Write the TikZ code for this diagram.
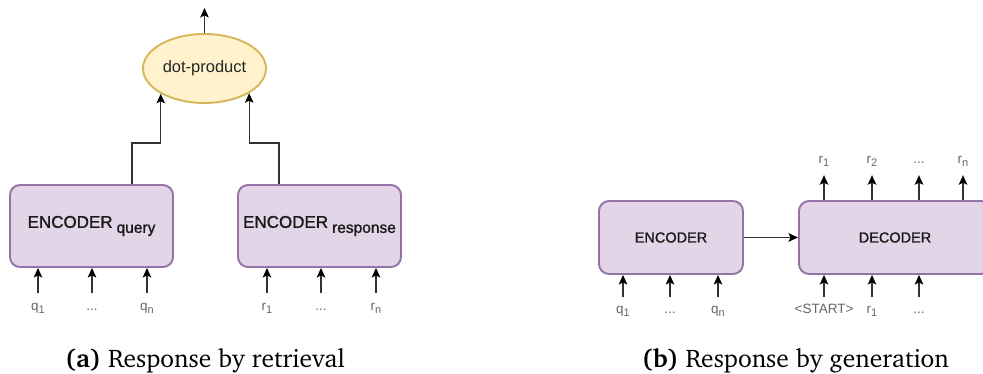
\documentclass[tikz,border=0pt]{standalone}
\usepackage[T1]{fontenc}
\usepackage{fontspec}
\setmainfont{Liberation Sans}
\newfontface\boxface{Liberation Sans}[FakeBold=1.2]
\usetikzlibrary{arrows.meta,shapes.geometric,calc}

\definecolor{boxfill}{HTML}{E1D5E7}
\definecolor{boxline}{HTML}{9673A6}
\definecolor{dpfill}{HTML}{FFF2CC}
\definecolor{dpline}{HTML}{D6B656}
\definecolor{wire}{HTML}{333333}
\definecolor{lbl}{HTML}{666666}

\newcommand{\capfont}{\fontencoding{T1}\fontfamily{bch}\selectfont}
% lowered, slightly smaller text used as a subscript
\newcommand{\lowsub}[3]{\raisebox{#1}{\fontsize{#2}{#2}\selectfont #3}}

\tikzset{
  x=1pt, y=-1pt,
  block/.style={draw=boxline, fill=boxfill, line width=1.9pt,
    rounded corners=10pt, inner sep=0pt,
    font=\boxface\fontsize{17}{20}\selectfont, text=black!90},
  smallblock/.style={block, font=\boxface\fontsize{14.5}{17}\selectfont},
  dotprod/.style={ellipse, draw=dpline, fill=dpfill, line width=1.9pt,
    inner sep=0pt, minimum width=123pt, minimum height=69pt,
    font=\fontsize{16.5}{20}\selectfont, text=black!85},
  flow/.style={draw=wire, line width=1.2pt,
    -{Stealth[length=9.5pt,width=8.5pt,inset=2pt,black]}},
  tok/.style={text=lbl, inner sep=0pt, anchor=base, text height=8pt,
    text depth=2pt, font=\fontsize{13.5}{15}\selectfont},
  caption/.style={anchor=base, font=\capfont\fontsize{25.5}{30}\selectfont}
}

\begin{document}
\begin{tikzpicture}
\useasboundingbox (0,0) rectangle (983,374);
\clip (0,0) rectangle (983,374);

% ---------- (a) retrieval ----------
\node[block, minimum width=163pt, minimum height=82pt] (eq) at (91.5,226)
  {ENCODER\hspace{4pt}\lowsub{-5pt}{15.5}{query}};
\node[block, minimum width=163pt, minimum height=82pt] (er) at (319.5,226)
  {ENCODER\hspace{4pt}\lowsub{-5pt}{15.5}{response}};
\node[dotprod] (dp) at (204.5,68.5) {dot-product};

\coordinate (out) at (204.5,8);
\draw[flow] (dp.north) -- (out);
\draw[flow] ($(eq.north)+(40.5,0)$) -- ++(0,-41) -| (dp.-150.7);
\draw[flow] ($(er.north)+(-40.5,0)$) -- ++(0,-41) -| (dp.-29.3);

\node[tok] (q1) at (38,310)  {q\lowsub{-3pt}{11}{1}};
\node[tok] (qd) at (92,310)  {...};
\node[tok] (qn) at (147,310) {q\lowsub{-3pt}{11}{n}};
\node[tok] (ra) at (267,310) {r\lowsub{-3pt}{11}{1}};
\node[tok] (rd) at (321,310) {...};
\node[tok] (rn) at (376,310) {r\lowsub{-3pt}{11}{n}};
\foreach \t/\b in {q1/eq, qd/eq, qn/eq, ra/er, rd/er, rn/er}
  \draw[flow] ([yshift=9pt]\t.north) -- (\t.north |- \b.south);

\node[caption] (capa) at (205,367) {\textbf{(a)} Response by retrieval};

% ---------- (b) generation ----------
\node[smallblock, minimum width=144pt, minimum height=73pt] (enc) at (671,237.5) {ENCODER};
\node[smallblock, minimum width=192pt, minimum height=73pt] (dec) at (895,237.5) {DECODER};
\draw[flow] (enc.east) -- (dec.west);

\node[tok] (b1) at (623,313) {q\lowsub{-3pt}{11}{1}};
\node[tok] (b2) at (670,313) {...};
\node[tok] (b3) at (718,313) {q\lowsub{-3pt}{11}{n}};
\node[tok] (d1) at (824,313) {<START>};
\node[tok] (d2) at (872,313) {r\lowsub{-3pt}{11}{1}};
\node[tok] (d3) at (919,313) {...};
\foreach \t/\b in {b1/enc, b2/enc, b3/enc, d1/dec, d2/dec, d3/dec}
  \draw[flow] ([yshift=8pt]\t.north) -- (\t.north |- \b.south);

\node[tok] (o1) at (824,164) {r\lowsub{-3pt}{11}{1}};
\node[tok] (o2) at (872,164) {r\lowsub{-3pt}{11}{2}};
\node[tok] (o3) at (919,164) {...};
\node[tok] (o4) at (963,164) {r\lowsub{-3pt}{11}{n}};
\foreach \t in {o1, o2, o3, o4}
  \draw[flow] (\t.south |- dec.north) -- ([yshift=-9pt]\t.south);

\node[caption] (capb) at (795.5,367) {\textbf{(b)} Response by generation};
\end{tikzpicture}
\end{document}
